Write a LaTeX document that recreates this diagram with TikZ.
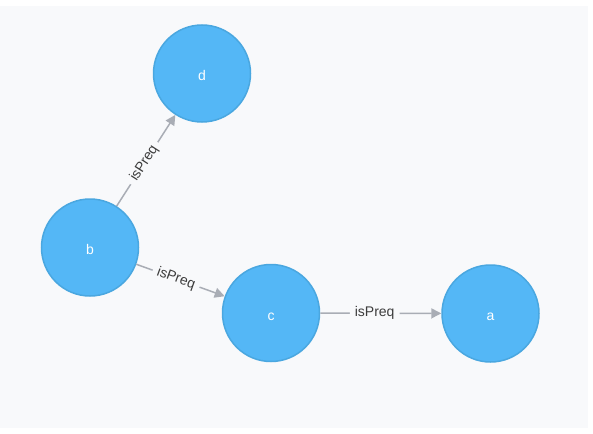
\documentclass[tikz,border=0pt]{standalone}
\usepackage{fontspec}
\setmainfont{Liberation Sans}
\usetikzlibrary{arrows.meta}
\definecolor{bgc}{HTML}{F8F9FB}
\definecolor{nodefill}{HTML}{54B7F6}
\definecolor{nodeline}{HTML}{4AA7E0}
\definecolor{edgec}{HTML}{A9ADB5}
\definecolor{lblc}{HTML}{3C3C3C}
\tikzset{
  gnode/.style={circle, fill=nodefill, draw=nodeline, line width=1.5pt,
    minimum size=97pt, inner sep=0pt, text=white,
    font=\fontsize{14}{14}\selectfont, text height=14pt, text depth=0pt},
  edge/.style={draw=edgec, line width=1.5pt,
    -{Triangle[length=10pt,width=10pt]}},
  lbl/.style={fill=bgc, text=lblc, inner xsep=5pt, inner ysep=1pt,
    font=\fontsize{14}{14}\selectfont, sloped}
}
\begin{document}
\begin{tikzpicture}[x=1pt,y=-1pt]
\useasboundingbox (0,0) rectangle (593,433);
\fill[white] (0,0) rectangle (593,433);
\fill[bgc] (0,6) rectangle (588,428);
\node[gnode] (d) at (202,73.5) {d};
\node[gnode] (b) at (90,247.5) {b};
\node[gnode] (c) at (271,313) {c};
\node[gnode] (a) at (490.5,313.5) {a};
\draw[edge] (b) -- node[lbl, pos=0.47] {isPreq} (d);
\draw[edge] (b) -- node[lbl, pos=0.45] {isPreq} (c);
\draw[edge] (c) -- node[lbl, pos=0.45] {isPreq} (a);
\end{tikzpicture}
\end{document}
